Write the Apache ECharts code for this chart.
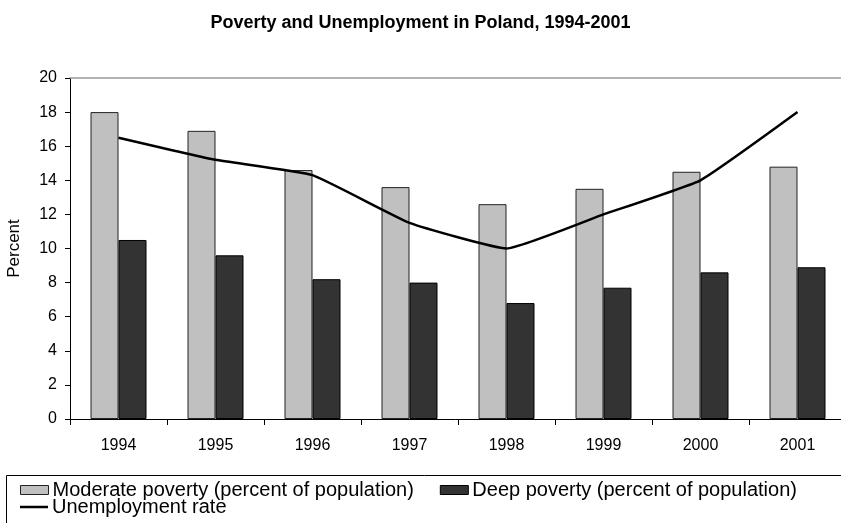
<!DOCTYPE html>
<html>
<head>
<meta charset="utf-8">
<script src="https://cdn.jsdelivr.net/npm/echarts@6/dist/echarts.min.js"></script>
<style>
  html, body { margin: 0; padding: 0; background: #fff; }
  #chart { width: 841px; height: 523px; }
</style>
</head>
<body>
<div id="chart"></div>
<script>
// Poverty and unemployment in Poland, 1994-2001 (percent)
const years = ['1994', '1995', '1996', '1997', '1998', '1999', '2000', '2001'];
const moderatePoverty = [18.0, 16.9, 14.6, 13.6, 12.6, 13.5, 14.5, 14.8];
const deepPoverty = [10.5, 9.6, 8.2, 8.0, 6.8, 7.7, 8.6, 8.9];
const unemploymentRate = [16.5, 15.2, 14.3, 11.5, 10.0, 12.0, 14.0, 18.0];

const seriesNames = [
  'Moderate poverty (percent of population)',
  'Deep poverty (percent of population)',
  'Unemployment rate'
];

const FONT = "'Liberation Sans', Arial, sans-serif";

const chart = echarts.init(document.getElementById('chart'), null, { renderer: 'canvas' });

chart.setOption({
  animation: false,
  backgroundColor: '#ffffff',
  textStyle: { fontFamily: FONT, color: '#000' },
  title: {
    text: 'Poverty and Unemployment in Poland, 1994-2001',
    left: 'center',
    top: 9,
    textStyle: { fontFamily: FONT, fontSize: 18, fontWeight: 'bold', color: '#000' }
  },
  grid: { left: 70, top: 78, width: 776, height: 341, containLabel: false, outerBoundsMode: 'none' },
  xAxis: [
    {
      type: 'category',
      data: years,
      boundaryGap: true,
      axisLine: { lineStyle: { color: '#000', width: 1 } },
      axisTick: { show: true, interval: 0, length: 6, lineStyle: { color: '#000' } },
      axisLabel: { fontFamily: FONT, fontSize: 16, color: '#000', margin: 19 },
      splitLine: { show: false }
    },
    {
      // plot-area top edge
      type: 'category',
      data: years,
      position: 'top',
      axisLine: { lineStyle: { color: '#9a9a9a', width: 1.5 } },
      axisTick: { show: false },
      axisLabel: { show: false },
      splitLine: { show: false }
    }
  ],
  yAxis: {
    type: 'value',
    min: 0,
    max: 20,
    interval: 2,
    name: 'Percent',
    nameLocation: 'middle',
    nameRotate: 90,
    nameGap: 47,
    nameTextStyle: { fontFamily: FONT, fontSize: 17, color: '#000' },
    axisLine: { show: true, lineStyle: { color: '#000', width: 1 } },
    axisTick: { show: true, length: 5, lineStyle: { color: '#000' } },
    axisLabel: { fontFamily: FONT, fontSize: 16, color: '#000', margin: 13 },
    splitLine: { show: false }
  },
  legend: [
    {
      data: [
        { name: seriesNames[0], icon: 'rect', itemStyle: { color: '#c0c0c0', borderColor: '#222', borderWidth: 1 } },
        { name: seriesNames[1], icon: 'rect', itemStyle: { color: '#333333', borderColor: '#000', borderWidth: 1 } }
      ],
      left: 20,
      top: 480,
      padding: 0,
      itemWidth: 28,
      itemHeight: 9,
      itemGap: 26,
      textStyle: { fontFamily: FONT, fontSize: 20, color: '#000', padding: [0, 0, 0, -1] }
    },
    {
      data: [
        { name: seriesNames[2], icon: 'rect', itemStyle: { color: '#000', borderWidth: 0 } }
      ],
      left: 20,
      top: 497,
      padding: 0,
      itemWidth: 28,
      itemHeight: 2.5,
      textStyle: { fontFamily: FONT, fontSize: 20, color: '#000', padding: [0, 0, 0, -1] }
    }
  ],
  graphic: [
    {
      type: 'rect',
      left: 4,
      top: 473,
      silent: true,
      shape: { width: 880, height: 80 },
      style: { fill: 'none', stroke: '#000', lineWidth: 1 }
    }
  ],
  series: [
    {
      name: seriesNames[0],
      type: 'bar',
      data: moderatePoverty,
      barWidth: 28,
      barGap: '0%',
      itemStyle: { color: '#c0c0c0', borderColor: '#222', borderWidth: 1 }
    },
    {
      name: seriesNames[1],
      type: 'bar',
      data: deepPoverty,
      barWidth: 28,
      barGap: '0%',
      itemStyle: { color: '#333333', borderColor: '#000', borderWidth: 1 }
    },
    {
      name: seriesNames[2],
      type: 'line',
      data: unemploymentRate,
      smooth: 0.12,
      symbol: 'none',
      z: 5,
      lineStyle: { color: '#000', width: 2.5 },
      itemStyle: { color: '#000' }
    }
  ]
});
</script>
</body>
</html>
